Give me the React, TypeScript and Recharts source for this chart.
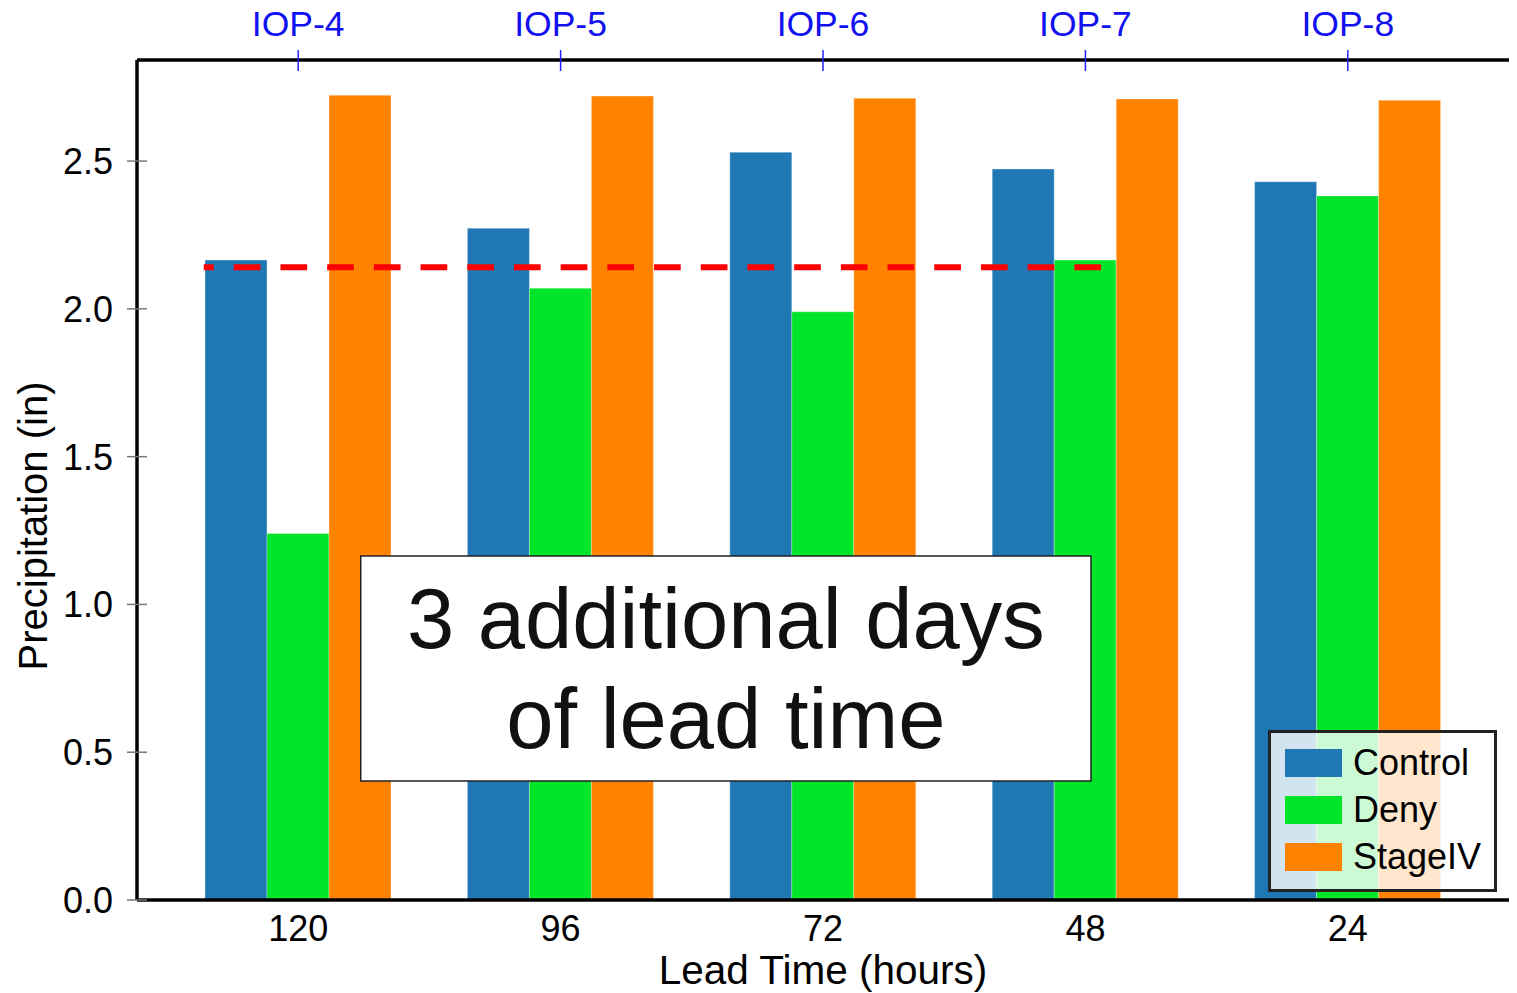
import React from "react";
import {
  BarChart,
  Bar,
  XAxis,
  YAxis,
  Legend,
  ReferenceLine,
  ReferenceArea,
} from "recharts";

const FONT = '"Liberation Sans", Arial, Helvetica, sans-serif';

// chart data
const leadTimes = ["120", "96", "72", "48", "24"];
const iopLabels = ["IOP-4", "IOP-5", "IOP-6", "IOP-7", "IOP-8"];
const controlValues = [2.165, 2.273, 2.53, 2.473, 2.43];
const denyValues = [1.24, 2.07, 1.99, 2.165, 2.382];
const stageIVValues = [2.723, 2.72, 2.713, 2.71, 2.706];
const yTicks = [0, 0.5, 1.0, 1.5, 2.0, 2.5];

// threshold line (dashed red) and annotation box, in group-index units (0 = first group centre)
const thresholdValue = 2.141;
const thresholdSpan = [-0.359, 3.059];
const noteSpanX = [0.239, 3.021];
const noteSpanY = [0.403, 1.164];
const noteLines = ["3 additional days", "of lead time"];

const series = [
  { key: "control", name: "Control", color: "#1f77b4" },
  { key: "deny", name: "Deny", color: "#00e52a" },
  { key: "stageIV", name: "StageIV", color: "#ff8300" },
];

const data = leadTimes.map((lt, i) => ({
  lead: lt,
  iop: iopLabels[i],
  control: controlValues[i],
  deny: denyValues[i],
  stageIV: stageIVValues[i],
}));

const YTick = ({ x, y, payload }: any) => (
  <g>
    <line x1={x + 14} x2={x + 34} y1={y} y2={y} stroke="#777" strokeWidth={1.5} />
    <text x={x} y={y} dy="0.36em" textAnchor="end" fontSize={36} fontFamily={FONT} fill="#000">
      {Number(payload.value).toFixed(1)}
    </text>
  </g>
);

const TopTick = ({ x, y, payload }: any) => (
  <g>
    <line x1={x} x2={x} y1={y + 14} y2={y + 35} stroke="#2020ff" strokeWidth={1.5} />
    <text x={x} y={y} textAnchor="middle" fontSize={35.5} fontFamily={FONT} fill="#1010f0">
      {payload.value}
    </text>
  </g>
);

const NoteLabel = (props: any) => {
  const vb = props.viewBox || {};
  const cx = vb.x + vb.width / 2;
  return (
    <g>
      <text x={cx} y={vb.y + 92} textAnchor="middle" fontSize={85} fontFamily={FONT} fill="#111">
        {noteLines[0]}
      </text>
      <text x={cx} y={vb.y + 192} textAnchor="middle" fontSize={85} fontFamily={FONT} fill="#111">
        {noteLines[1]}
      </text>
    </g>
  );
};

const LegendBox = () => (
  <div
    style={{
      boxSizing: "border-box",
      width: 229,
      height: 162,
      border: "3px solid #222",
      background: "rgba(255,255,255,0.8)",
      paddingTop: 6,
      paddingLeft: 14,
      fontFamily: FONT,
    }}
  >
    {series.map((s) => (
      <div key={s.key} style={{ display: "flex", alignItems: "center", height: 47 }}>
        <div style={{ width: 57, height: 28, background: s.color, marginRight: 11 }} />
        <span style={{ fontSize: 36, color: "#000", lineHeight: "47px" }}>{s.name}</span>
      </div>
    ))}
  </div>
);

export default function App() {
  return (
    <div style={{ position: "absolute", left: 0, top: 0, background: "#fff" }}>
      <BarChart
        width={1517}
        height={993}
        data={data}
        margin={{ top: 0, right: 8, left: 0, bottom: 0 }}
        barGap={0}
        barSize={62}
      >
        <XAxis
          xAxisId="main"
          dataKey="lead"
          orientation="bottom"
          height={93}
          padding={{ left: 30, right: 30 }}
          axisLine={{ stroke: "#000", strokeWidth: 3.5 }}
          tickLine={false}
          tickSize={0}
          tickMargin={15}
          tick={{ fontSize: 36, fontFamily: FONT, fill: "#000" }}
          label={(p: any) => {
            const vb = p.viewBox || {};
            return (
              <text x={vb.x + vb.width / 2} y={vb.y + 84} textAnchor="middle" fontSize={40.5} fontFamily={FONT} fill="#000">
                Lead Time (hours)
              </text>
            );
          }}
        />
        <XAxis
          xAxisId="top"
          dataKey="iop"
          orientation="top"
          height={60}
          padding={{ left: 30, right: 30 }}
          axisLine={{ stroke: "#000", strokeWidth: 3.5 }}
          tickLine={false}
          tickSize={0}
          tickMargin={24}
          tick={<TopTick />}
        />
        <XAxis
          xAxisId="pos"
          type="number"
          domain={[0, 4]}
          allowDataOverflow
          padding={{ left: 161, right: 161 }}
          hide
        />
        <YAxis
          yAxisId="left"
          width={137}
          domain={[0, 2.842]}
          ticks={yTicks}
          allowDataOverflow
          axisLine={{ stroke: "#000", strokeWidth: 3.5 }}
          tickLine={false}
          tickSize={0}
          tickMargin={24}
          tick={<YTick />}
          label={(p: any) => {
            const vb = p.viewBox || {};
            const cy = vb.y + 466;
            return (
              <text
                x={47}
                y={cy}
                transform={`rotate(-90, 47, ${cy})`}
                textAnchor="middle"
                fontSize={40}
                fontFamily={FONT}
                fill="#000"
              >
                Precipitation (in)
              </text>
            );
          }}
        />
        <YAxis
          yAxisId="right"
          orientation="right"
          width={0}
          domain={[0, 2.842]}
          tick={false}
          tickLine={false}
          axisLine={{ stroke: "#000", strokeWidth: 3.5 }}
        />
        {series.map((s) => (
          <Bar
            key={s.key}
            xAxisId="main"
            yAxisId="left"
            dataKey={s.key}
            name={s.name}
            fill={s.color}
            stroke="#ffffff"
            strokeOpacity={0.3}
            strokeWidth={1}
            isAnimationActive={false}
          />
        ))}
        <ReferenceLine
          xAxisId="pos"
          yAxisId="left"
          segment={[
            { x: thresholdSpan[0], y: thresholdValue },
            { x: thresholdSpan[1], y: thresholdValue },
          ]}
          stroke="#ff0000"
          strokeWidth={6}
          strokeDasharray="26.7 20"
          strokeDashoffset={16.7}
          ifOverflow="visible"
          zIndex={1500}
        />
        <ReferenceArea
          xAxisId="pos"
          yAxisId="left"
          x1={noteSpanX[0]}
          x2={noteSpanX[1]}
          y1={noteSpanY[0]}
          y2={noteSpanY[1]}
          fill="#ffffff"
          fillOpacity={1}
          stroke="#222"
          strokeWidth={1.5}
          ifOverflow="visible"
          zIndex={1500}
          label={NoteLabel}
        />
        <Legend
          layout="vertical"
          align="center"
          verticalAlign="middle"
          wrapperStyle={{ left: 1268, top: 730, width: 229, height: 162 }}
          content={<LegendBox />}
        />
      </BarChart>
    </div>
  );
}
